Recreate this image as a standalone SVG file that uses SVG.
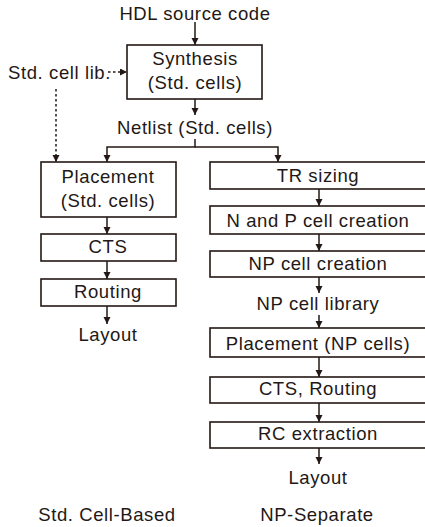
<svg xmlns="http://www.w3.org/2000/svg" width="425" height="527" viewBox="0 0 425 527">
<defs>
<style>
.b{fill:#fff;stroke:#231815;stroke-width:1.6}
.t{font-family:"Liberation Sans",Arial,sans-serif;font-size:18.5px;letter-spacing:0.6px;fill:#231815;text-anchor:middle}
.l{fill:none;stroke:#231815;stroke-width:1.5}
.d{fill:none;stroke:#231815;stroke-width:1.5;stroke-dasharray:2.5,2.5}
</style>
<marker id="a" markerUnits="userSpaceOnUse" markerWidth="8" markerHeight="8" refX="7" refY="3.5" orient="auto">
<path d="M0,0 L7,3.5 L0,7 z" fill="#231815"/>
</marker>
</defs>
<rect width="425" height="527" fill="#fff"/>
<g id="connectors">
<line class="l" x1="195" y1="22" x2="195" y2="45" marker-end="url(#a)"/>
<line class="l" x1="195" y1="99" x2="195" y2="115" marker-end="url(#a)"/>
<line class="d" x1="108" y1="72" x2="127" y2="72" marker-end="url(#a)"/>
<line class="d" x1="56" y1="89" x2="56" y2="162" marker-end="url(#a)"/>
<polyline class="l" points="195,139 195,147 107,147 107,162" marker-end="url(#a)"/>
<polyline class="l" points="195,147 278,147 278,162" marker-end="url(#a)"/>
<line class="l" x1="107" y1="217" x2="107" y2="234" marker-end="url(#a)"/>
<line class="l" x1="107" y1="261" x2="107" y2="279" marker-end="url(#a)"/>
<line class="l" x1="107" y1="306" x2="107" y2="324" marker-end="url(#a)"/>
<line class="l" x1="319" y1="189" x2="319" y2="206" marker-end="url(#a)"/>
<line class="l" x1="319" y1="234" x2="319" y2="251" marker-end="url(#a)"/>
<line class="l" x1="319" y1="277" x2="319" y2="293" marker-end="url(#a)"/>
<line class="l" x1="319" y1="315" x2="319" y2="328" marker-end="url(#a)"/>
<line class="l" x1="319" y1="357" x2="319" y2="377" marker-end="url(#a)"/>
<line class="l" x1="319" y1="403" x2="319" y2="422" marker-end="url(#a)"/>
<line class="l" x1="319" y1="448" x2="319" y2="464" marker-end="url(#a)"/>
</g>
<g id="hdl"><text class="t" x="195" y="20">HDL source code</text></g>
<g id="synthesis"><rect class="b" x="127" y="45" width="135" height="54"/><text class="t" x="195" y="65">Synthesis</text><text class="t" x="195" y="89">(Std. cells)</text></g>
<g id="stdlib"><text class="t" x="8" y="79" style="text-anchor:start">Std. cell lib.</text></g>
<g id="netlist"><text class="t" x="195" y="134">Netlist (Std. cells)</text></g>
<g id="placement-std"><rect class="b" x="41" y="162" width="135" height="55"/><text class="t" x="108" y="183">Placement</text><text class="t" x="108" y="207">(Std. cells)</text></g>
<g id="cts"><rect class="b" x="41" y="234" width="135" height="27"/><text class="t" x="108" y="253">CTS</text></g>
<g id="routing"><rect class="b" x="41" y="279" width="135" height="27"/><text class="t" x="108" y="298">Routing</text></g>
<g id="layout-std"><text class="t" x="108" y="341">Layout</text></g>
<g id="tr-sizing"><rect class="b" x="210" y="162" width="218" height="27"/><text class="t" x="318" y="182">TR sizing</text></g>
<g id="np-creation"><rect class="b" x="210" y="206" width="218" height="28"/><text class="t" x="318" y="227">N and P cell creation</text></g>
<g id="npcell-creation"><rect class="b" x="210" y="251" width="218" height="26"/><text class="t" x="318" y="270">NP cell creation</text></g>
<g id="np-library"><text class="t" x="318" y="310">NP cell library</text></g>
<g id="placement-np"><rect class="b" x="210" y="328" width="218" height="29"/><text class="t" x="318" y="350">Placement (NP cells)</text></g>
<g id="cts-routing"><rect class="b" x="210" y="377" width="218" height="26"/><text class="t" x="318" y="395">CTS, Routing</text></g>
<g id="rc"><rect class="b" x="210" y="422" width="218" height="26"/><text class="t" x="318" y="440">RC extraction</text></g>
<g id="layout-np"><text class="t" x="318" y="484">Layout</text></g>
<g id="label-std"><text class="t" x="107" y="521">Std. Cell-Based</text></g>
<g id="label-np"><text class="t" x="317" y="521">NP-Separate</text></g>
</svg>
